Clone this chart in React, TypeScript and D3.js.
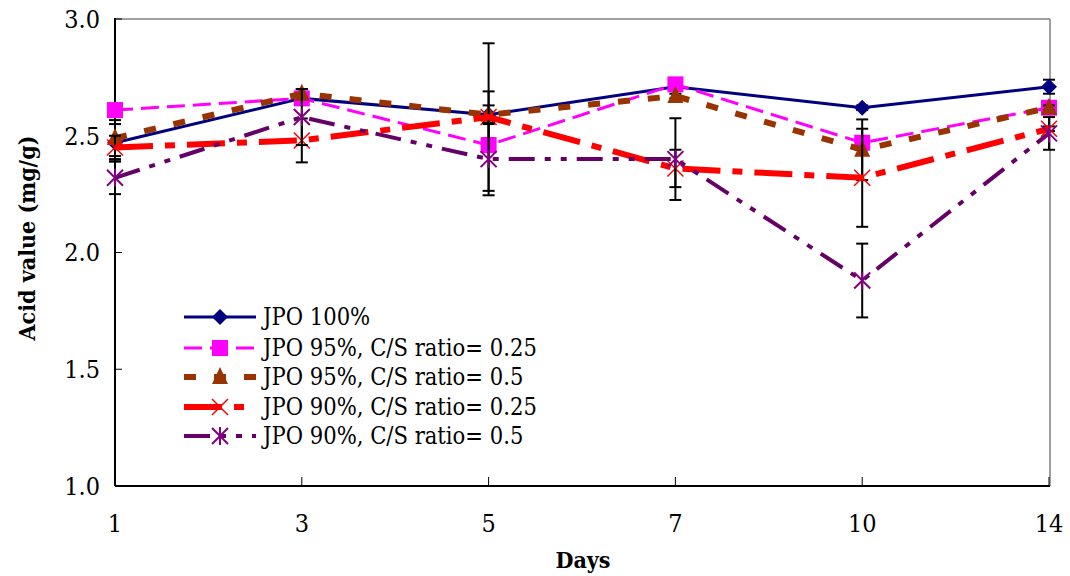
import React from 'react';
import * as d3 from 'd3';

// x categories (days) and y ticks
const days = ['1', '3', '5', '7', '10', '14'];
const yTicks = [1.0, 1.5, 2.0, 2.5, 3.0];

// mean acid values per series
const jpo100 = [2.47, 2.66, 2.59, 2.71, 2.62, 2.71];
const jpo95q = [2.61, 2.66, 2.46, 2.72, 2.47, 2.62];
const jpo95h = [2.49, 2.68, 2.59, 2.67, 2.44, 2.62];
const jpo90q = [2.45, 2.48, 2.58, 2.36, 2.32, 2.53];
const jpo90h = [2.32, 2.58, 2.40, 2.40, 1.88, 2.51];

// error bar half-widths per series
const err100 = [0.08, 0.01, 0.1, 0.01, 0.01, 0.03];
const err95q = [0.01, 0.01, 0.01, 0.01, 0.01, 0.01];
const err95h = [0.077, 0.02, 0.04, 0.01, 0.13, 0.01];
const err90q = [0.05, 0.094, 0.316, 0.08, 0.21, 0.01];
const err90h = [0.07, 0.12, 0.155, 0.175, 0.158, 0.07];

const seriesNames = [
  'JPO 100%',
  'JPO 95%, C/S ratio= 0.25',
  'JPO 95%, C/S ratio= 0.5',
  'JPO 90%, C/S ratio= 0.25',
  'JPO 90%, C/S ratio= 0.5',
];

const series = [
  { name: seriesNames[0], values: jpo100, errs: err100, color: '#000080', width: 3, dash: null, marker: 'diamond', mcolor: '#000080' },
  { name: seriesNames[1], values: jpo95q, errs: err95q, color: '#FF00FF', width: 3, dash: '18,8', marker: 'square', mcolor: '#FF00FF' },
  { name: seriesNames[2], values: jpo95h, errs: err95h, color: '#993300', width: 6, dash: '12,18', marker: 'triangle', mcolor: '#993300' },
  { name: seriesNames[3], values: jpo90q, errs: err90q, color: '#FF0000', width: 6, dash: '38,12,10,12', marker: 'x', mcolor: '#FF0000' },
  { name: seriesNames[4], values: jpo90h, errs: err90h, color: '#660066', width: 4, dash: '26,10,6,10,6,10', marker: 'star', mcolor: '#800080' },
];

const W = 1070;
const H = 576;
const left = 115;
const right = 1049;
const top = 19;
const bottom = 486;
// Liberation Serif isn't picked up here, so a condensed serif stands in for Times
const serifNarrow = "'DejaVu Serif Condensed', 'DejaVu Serif', serif";

function Marker({ type, x, y, color }: { type: string; x: number; y: number; color: string }) {
  const s = 8;
  if (type === 'diamond') {
    return <path d={`M${x},${y - s}L${x + s},${y}L${x},${y + s}L${x - s},${y}Z`} fill={color} />;
  }
  if (type === 'square') {
    return <rect x={x - 8} y={y - 8} width={16} height={16} fill={color} />;
  }
  if (type === 'triangle') {
    return <path d={`M${x},${y - 10}L${x + 8},${y + 7}L${x - 8},${y + 7}Z`} fill={color} />;
  }
  if (type === 'x') {
    return (
      <path d={`M${x - 8},${y - 8}L${x + 8},${y + 8}M${x - 8},${y + 8}L${x + 8},${y - 8}`} stroke={color} strokeWidth={1.5} />
    );
  }
  return (
    <path
      d={`M${x - 8},${y - 8}L${x + 8},${y + 8}M${x - 8},${y + 8}L${x + 8},${y - 8}M${x},${y - 9}L${x},${y + 9}`}
      stroke={color}
      strokeWidth={2}
    />
  );
}

export default function App() {
  const x = d3.scalePoint<string>().domain(days).range([left, right]);
  const y = d3.scaleLinear().domain([1, 3]).range([bottom, top]);
  const line = d3
    .line<number>()
    .x((_, i) => x(days[i]) as number)
    .y((d) => y(d));

  const legendX0 = 184;
  const legendX1 = 256;
  const legendTextX = 263;
  const legendRows = [317, 348, 377, 407, 436];

  return (
    <svg width={W} height={H} style={{ position: 'absolute', left: 0, top: 0, background: '#fff', fontFamily: serifNarrow }}>
      <rect width={W} height={H} fill="#fff" />
      {/* frame */}
      <line x1={left} x2={right + 1} y1={top} y2={top} stroke="#808080" strokeWidth={1.5} />
      <line x1={right + 1} x2={right + 1} y1={top} y2={bottom} stroke="#808080" strokeWidth={1.5} />
      <line x1={left} x2={left} y1={top - 1} y2={bottom} stroke="#000" strokeWidth={2} />
      <line x1={left} x2={right + 1} y1={bottom} y2={bottom} stroke="#000" strokeWidth={2} />

      {/* y ticks */}
      {yTicks.map((t) => (
        <g key={t}>
          <line x1={left} x2={left + 7} y1={y(t)} y2={y(t)} stroke="#000" strokeWidth={1} />
          <text x={100} y={y(t)} dy="0.35em" textAnchor="end" fontSize={25} style={{ fontFamily: serifNarrow }}>
            {t.toFixed(1)}
          </text>
        </g>
      ))}
      {/* x ticks */}
      {days.map((d) => (
        <g key={d}>
          <line x1={x(d)} x2={x(d)} y1={bottom} y2={bottom - 9} stroke="#000" strokeWidth={1} />
          <text x={x(d)} y={532} textAnchor="middle" fontSize={25} style={{ fontFamily: serifNarrow }}>
            {d}
          </text>
        </g>
      ))}

      <text x={583} y={568} textAnchor="middle" fontSize={23} fontWeight="bold" style={{ fontFamily: serifNarrow }}>
        Days
      </text>
      <text
        transform={`translate(35,238) rotate(-90)`}
        textAnchor="middle"
        fontSize={23}
        fontWeight="bold"
        style={{ fontFamily: serifNarrow }}
      >
        Acid value (mg/g)
      </text>

      {/* series */}
      {series.map((s) => (
        <g key={s.name}>
          {s.values.map((v, i) => {
            const cx = x(days[i]) as number;
            const y0 = y(v - s.errs[i]);
            const y1 = y(v + s.errs[i]);
            return (
              <g key={i} stroke="#000" strokeWidth={2}>
                <line x1={cx} x2={cx} y1={y0} y2={y1} />
                <line x1={cx - 6} x2={cx + 6} y1={y0} y2={y0} />
                <line x1={cx - 6} x2={cx + 6} y1={y1} y2={y1} />
              </g>
            );
          })}
          <path
            d={line(s.values) || ''}
            fill="none"
            stroke={s.color}
            strokeWidth={s.width}
            strokeDasharray={s.dash || undefined}
          />
          {s.values.map((v, i) => (
            <Marker key={i} type={s.marker} x={x(days[i]) as number} y={y(v)} color={s.mcolor} />
          ))}
        </g>
      ))}

      {/* legend */}
      {series.map((s, i) => (
        <g key={s.name}>
          <line
            x1={legendX0}
            x2={legendX1}
            y1={legendRows[i]}
            y2={legendRows[i]}
            stroke={s.color}
            strokeWidth={s.width}
            strokeDasharray={s.dash || undefined}
          />
          <Marker type={s.marker} x={(legendX0 + legendX1) / 2} y={legendRows[i]} color={s.mcolor} />
          <text x={legendTextX} y={legendRows[i]} dy="0.35em" fontSize={23.5} style={{ fontFamily: serifNarrow }}>
            {s.name}
          </text>
        </g>
      ))}
    </svg>
  );
}
